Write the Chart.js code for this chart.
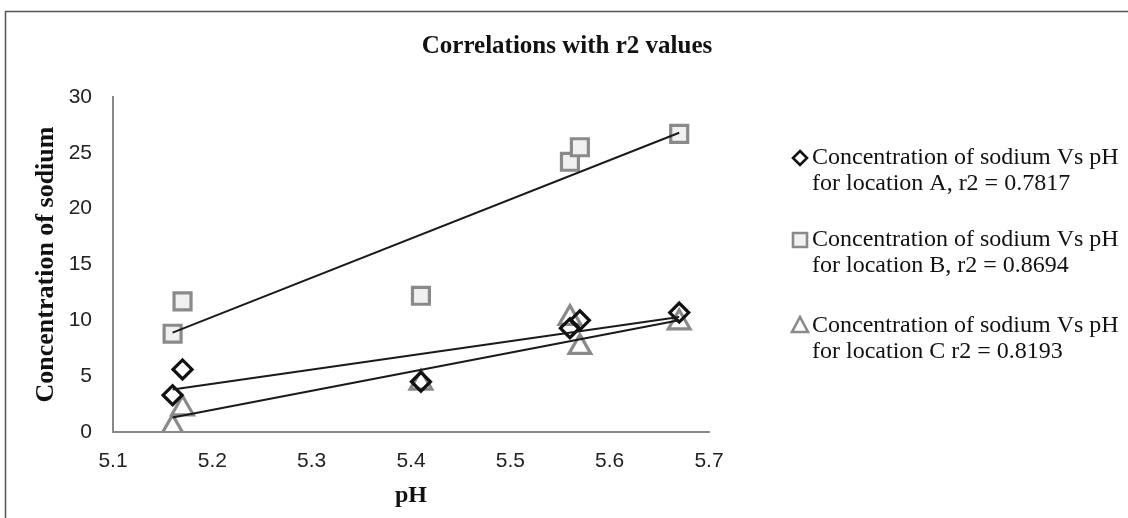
<!DOCTYPE html>
<html>
<head>
<meta charset="utf-8">
<script src="https://cdn.jsdelivr.net/npm/chart.js@4.4.0/dist/chart.umd.min.js"></script>
<style>
  html, body { margin: 0; padding: 0; background: #fff; }
  #wrap { width: 1128px; height: 518px; position: relative; }
</style>
</head>
<body>
<div id="wrap"><canvas id="chart" width="1128" height="518"></canvas></div>
<script>
// pH values (x) and sodium concentration (y) per location
const phA = [5.16, 5.17, 5.41, 5.56, 5.57, 5.67];
const naA = [3.3, 5.6, 4.5, 9.3, 10.0, 10.7];
const phB = [5.16, 5.17, 5.41, 5.56, 5.57, 5.67];
const naB = [8.8, 11.7, 12.2, 24.2, 25.5, 26.7];
const phC = [5.16, 5.17, 5.41, 5.56, 5.57, 5.67];
const naC = [0.4, 2.1, 4.4, 10.2, 7.6, 9.8];

// linear trendline end points
const trendPh = [5.16, 5.67];
const trendA = [3.8, 10.3];
const trendB = [8.9, 26.8];
const trendC = [1.3, 10.0];

const xTicks = [5.1, 5.2, 5.3, 5.4, 5.5, 5.6, 5.7];
const yTicks = [0, 5, 10, 15, 20, 25, 30];

const chartTitle = 'Correlations with r2 values';
const seriesLabels = [
  ['Concentration of sodium Vs pH', 'for location A, r2 = 0.7817'],
  ['Concentration of sodium Vs pH', 'for location B, r2 = 0.8694'],
  ['Concentration of sodium Vs pH', 'for location C r2 = 0.8193']
];

const toPoints = (xs, ys) => xs.map((x, i) => ({ x: x, y: ys[i] }));

const GRAY = '#8a8a8a';
const SERIF = '"Liberation Serif", "Times New Roman", serif';

function trend(ys) {
  return {
    type: 'line',
    data: toPoints(trendPh, ys),
    borderColor: '#1a1a1a',
    borderWidth: 2,
    pointRadius: 0,
    fill: false,
    order: 0
  };
}

// frame, centred title and the two-line legend on the right
const extras = {
  id: 'extras',
  beforeDraw(chart) {
    const c = chart.ctx;
    c.save();
    c.fillStyle = '#fff';
    c.fillRect(0, 0, chart.width, chart.height);
    c.strokeStyle = '#555';
    c.lineWidth = 1.5;
    c.strokeRect(5.5, 11.5, 1140, 530);
    c.fillStyle = '#111';
    c.font = 'bold 25px ' + SERIF;
    c.textAlign = 'center';
    c.textBaseline = 'middle';
    c.fillText(chartTitle, 567, 47);
    c.restore();
  },
  afterDraw(chart) {
    const c = chart.ctx;
    const mx = 800, tx = 812;
    const rows = [158, 240, 326];
    c.save();
    c.font = '24px ' + SERIF;
    c.textBaseline = 'middle';
    seriesLabels.forEach((lines, i) => {
      const y = rows[i];
      c.fillStyle = '#111';
      c.fillText(lines[0], tx, y);
      c.fillText(lines[1], tx, y + 26);
      c.lineWidth = 2.6;
      c.beginPath();
      if (i === 0) {
        c.strokeStyle = '#111';
        c.moveTo(mx, y - 7); c.lineTo(mx + 7, y); c.lineTo(mx, y + 7); c.lineTo(mx - 7, y); c.closePath();
        c.stroke();
      } else if (i === 1) {
        c.strokeStyle = GRAY;
        c.fillStyle = '#f2f2f2';
        c.rect(mx - 7, y - 7, 14, 14);
        c.fill(); c.stroke();
      } else {
        c.strokeStyle = GRAY;
        c.moveTo(mx, y - 9); c.lineTo(mx + 8, y + 6); c.lineTo(mx - 8, y + 6); c.closePath();
        c.stroke();
      }
    });
    c.restore();
  }
};

new Chart(document.getElementById('chart'), {
  type: 'scatter',
  data: {
    datasets: [
      trend(trendA), trend(trendB), trend(trendC),
      {
        label: seriesLabels[0].join(' '),
        data: toPoints(phA, naA),
        pointStyle: 'rectRot',
        pointRadius: 9.5,
        pointBorderWidth: 3.2,
        borderColor: '#111',
        backgroundColor: 'rgba(255,255,255,0)',
        order: 1
      },
      {
        label: seriesLabels[1].join(' '),
        data: toPoints(phB, naB),
        pointStyle: 'rect',
        pointRadius: 12,
        pointBorderWidth: 3.2,
        borderColor: GRAY,
        backgroundColor: '#f0f0f0',
        order: 2
      },
      {
        label: seriesLabels[2].join(' '),
        data: toPoints(phC, naC),
        pointStyle: 'triangle',
        pointRadius: 12.5,
        pointBorderWidth: 3.2,
        borderColor: GRAY,
        backgroundColor: 'rgba(255,255,255,0)',
        order: 3
      }
    ]
  },
  options: {
    responsive: false,
    animation: false,
    layout: { padding: { top: 97, left: 5, right: 419, bottom: 5 } },
    plugins: {
      legend: { display: false },
      tooltip: { enabled: false },
      title: { display: false }
    },
    scales: {
      x: {
        type: 'linear',
        min: 5.1,
        max: 5.7,
        afterBuildTicks: (s) => { s.ticks = xTicks.map(v => ({ value: v })); },
        afterFit: (s) => { s.height = 81; },
        grid: { display: false, drawTicks: false },
        border: { color: GRAY, width: 2 },
        ticks: {
          padding: 17,
          color: '#222',
          font: { family: '"Liberation Sans", Arial, sans-serif', size: 21 },
          callback: (v) => v.toFixed(1)
        },
        title: {
          display: true,
          text: 'pH',
          color: '#111',
          font: { family: SERIF, size: 24, weight: 'bold' },
          padding: { top: 0, bottom: 3 }
        }
      },
      y: {
        min: 0,
        max: 30,
        afterBuildTicks: (s) => { s.ticks = yTicks.map(v => ({ value: v })); },
        afterFit: (s) => { s.width = 108; },
        grid: { display: false, drawTicks: false },
        border: { color: GRAY, width: 2 },
        ticks: {
          padding: 21,
          color: '#222',
          font: { family: '"Liberation Sans", Arial, sans-serif', size: 21 }
        },
        title: {
          display: true,
          text: 'Concentration of sodium',
          color: '#111',
          font: { family: SERIF, size: 26, weight: 'bold' },
          padding: { top: 26, bottom: 0 }
        }
      }
    }
  },
  plugins: [extras]
});
</script>
</body>
</html>
